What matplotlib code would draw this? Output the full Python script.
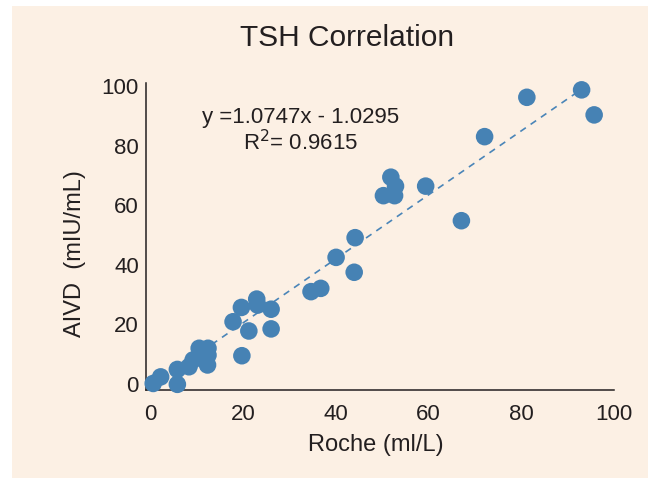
import matplotlib
matplotlib.use("Agg")
import matplotlib.pyplot as plt
from matplotlib.patches import Rectangle
import numpy as np

plt.rcParams['font.family'] = ['Liberation Sans', 'DejaVu Sans']

roche = [0.7, 2.3, 5.9, 5.9, 8.4, 9.3, 10.6, 12.5, 12.5, 12.4, 17.9, 19.7, 19.8,
         21.3, 23.0, 23.2, 26.1, 26.1, 34.7, 36.8, 40.1, 44.2, 44.0, 50.3, 51.9,
         52.9, 52.7, 59.4, 67.1, 72.1, 81.2, 93.0, 95.7]
aivd = [0.2, 2.4, -0.1, 4.9, 5.8, 8.1, 12.0, 12.0, 9.7, 6.4, 20.9, 25.7, 9.5,
        17.8, 28.5, 26.5, 25.1, 18.5, 31.0, 32.1, 42.5, 49.1, 37.5, 63.2, 69.4,
        66.4, 63.2, 66.4, 54.8, 83.0, 96.2, 98.7, 90.3]
slope = 1.0747
intercept = -1.0295
r2 = 0.9615
fit_range = [0.0, 97.0]
ticks = [0, 20, 40, 60, 80, 100]

W, H = 649, 479
fig = plt.figure(figsize=(W / 100, H / 100), dpi=100, facecolor='white')
bg = '#FCF0E4'
fig.patches.append(Rectangle((12 / W, 1 / H), (648 - 12) / W, (478 - 6) / H,
                             transform=fig.transFigure, facecolor=bg,
                             edgecolor='none', zorder=-10))

ax = fig.add_axes([145.8 / W, (H - 390) / H, (614.1 - 145.8) / W, (390 - 83) / H])
ax.set_facecolor('none')
ax.set_xlim(-0.9, 99.6)
ax.set_ylim(-2, 101)

fx = np.array(fit_range)
ax.plot(fx, slope * fx + intercept, color='#4A85B8', lw=1.2,
        linestyle=(0, (4, 3.5)), zorder=2)
ax.scatter(roche, aivd, s=160, color='#4682B4', edgecolors='none', zorder=3,
           clip_on=False)

for s in ['top', 'right']:
    ax.spines[s].set_visible(False)
for s in ['left', 'bottom']:
    ax.spines[s].set_color('#231F20')
    ax.spines[s].set_linewidth(1.1)

ax.set_xticks(ticks)
ax.set_yticks(ticks)
ax.tick_params(axis='both', length=0, labelsize=16, colors='#231F20')
ax.tick_params(axis='x', pad=10)
ax.tick_params(axis='y', pad=5)

fig.text(347 / W, 1 - 38 / H, 'TSH Correlation', ha='center', va='center',
         fontsize=21.5, color='#231F20')
fig.text(376 / W, 1 - 445 / H, 'Roche (ml/L)', ha='center', va='center',
         fontsize=17, color='#231F20')
fig.text(75 / W, 1 - 254 / H, 'AIVD  (mIU/mL)', ha='center', va='center',
         rotation=90, fontsize=17, color='#231F20')
fig.text(301 / W, 1 - 117 / H, f'y ={slope}x - {abs(intercept)}', ha='center',
         va='center', fontsize=16, color='#231F20')
fig.text(301 / W, 1 - 143 / H, f'R$^{{2}}$= {r2}', ha='center', va='center',
         fontsize=16, color='#231F20')

fig.savefig('out.png', dpi=100, facecolor='white')
